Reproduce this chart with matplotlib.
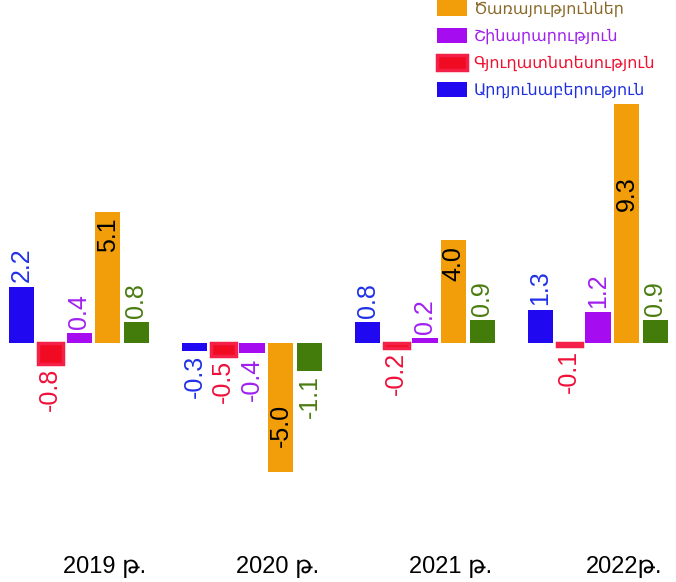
import numpy as np
import matplotlib
matplotlib.use('Agg')
import matplotlib.pyplot as plt
from matplotlib.patches import Patch

plt.rcParams['font.family'] = ['Liberation Sans', 'DejaVu Sans']

years = ['2019 թ.', '2020 թ.', '2021 թ.', '2022թ.']
series = ['Արդյունաբերություն', 'Գյուղատնտեսություն', 'Շինարարություն', 'Ծառայություններ', 'Այլ']
industry = [2.2, -0.3, 0.8, 1.3]
agriculture = [-0.8, -0.5, -0.2, -0.1]
construction = [0.4, -0.4, 0.2, 1.2]
services = [5.1, -5.0, 4.0, 9.3]
other = [0.8, -1.1, 0.9, 0.9]

colors = ['#2008f0', '#f00a22', '#a60cf0', '#f29e0a', '#437c0a']
text_colors = ['#2030e8', '#f0103a', '#a020f0', '#000000', '#4a7c10']
legend_text = {'#f29e0a': '#8a6a2a', '#a60cf0': '#a020f0', '#f00a22': '#f01030', '#2008f0': '#2030e0'}

fig = plt.figure(figsize=(6.76, 5.82), dpi=100)
ax = fig.add_axes([0, 0, 1, 1])
ax.set_xlim(-0.457, 3.451)
ax.set_ylim(-9.3, 13.35)
ax.axis('off')

x = np.arange(len(years))
step = 0.166
width = 0.145
data = [industry, agriculture, construction, services, other]
for i, vals in enumerate(data):
	xs = x + (i - 2) * step
	if i == 1:
		ax.bar(xs, vals, width=width, color=colors[i], edgecolor='#f52048', linewidth=2.5)
	else:
		ax.bar(xs, vals, width=width, color=colors[i])
	for xx, v in zip(xs, vals):
		lbl = '%.1f' % v
		if i == 3:
			# big services bars get the label inside
			if v > 0:
				ax.annotate(lbl, (xx, v), xytext=(0, -4 if v < 6 else -52), textcoords='offset points',
					rotation=90, ha='center', va='top', fontsize=18, color='black')
			else:
				ax.annotate(lbl, (xx, v), xytext=(0, 18), textcoords='offset points',
					rotation=90, ha='center', va='bottom', fontsize=18, color='black')
		elif v >= 0:
			ax.annotate(lbl, (xx, v), xytext=(0, 3), textcoords='offset points',
				rotation=90, ha='center', va='bottom', fontsize=18, color=text_colors[i])
		else:
			ax.annotate(lbl, (xx, v), xytext=(0, -3), textcoords='offset points',
				rotation=90, ha='center', va='top', fontsize=18, color=text_colors[i])

for xx, yr in zip(x, years):
	ax.text(xx + 0.15, -8.7, yr, ha='center', va='center', fontsize=17, color='black')

handles = [Patch(facecolor=colors[3]), Patch(facecolor=colors[2]),
		Patch(facecolor=colors[1], edgecolor='#f52048', linewidth=2.5), Patch(facecolor=colors[0])]
labels = [series[3], series[2], series[1], series[0]]
leg = fig.legend(handles, labels, loc='upper left', bbox_to_anchor=(0.625, 1.024), frameon=False,
	fontsize=11.5, handlelength=1.9, handleheight=1.1, handletextpad=0.4, labelspacing=0.68)
for t, h in zip(leg.get_texts(), [colors[3], colors[2], colors[1], colors[0]]):
	t.set_color(legend_text[h])

fig.savefig('out.png', dpi=100)
